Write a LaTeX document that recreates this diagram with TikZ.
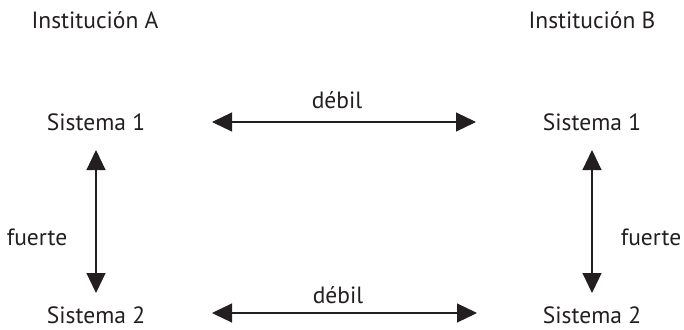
\documentclass[tikz,border=0pt]{standalone}
\usepackage{fontspec}
\setmainfont{PT Sans}
\usetikzlibrary{arrows.meta}
\definecolor{ink}{HTML}{231F20}
\begin{document}
\begin{tikzpicture}[x=1pt,y=-1pt,
  lbl/.style={font=\fontsize{23.5}{26}\selectfont,text=ink,inner sep=0pt},
  conn/.style={draw=ink,line width=1.2pt,{Triangle[length=20pt,width=19pt]}-{Triangle[length=20pt,width=19pt]}}]
\useasboundingbox (0,0) rectangle (684,329);
\node[lbl] (ia) at (95,20) {Institución A};
\node[lbl] (ib) at (592,20) {Institución B};
\node[lbl] (s1a) at (96,122) {Sistema 1};
\node[lbl] (s1b) at (592,122) {Sistema 1};
\node[lbl] (s2a) at (96,315.5) {Sistema 2};
\node[lbl] (s2b) at (592,315.5) {Sistema 2};
\draw[conn,shorten <=116pt,shorten >=116pt] (s1a.center) -- (s1b.center);
\draw[conn,shorten <=116pt,shorten >=115pt] ([yshift=2.5pt]s2a.center) -- ([yshift=2.5pt]s2b.center);
\draw[conn,shorten <=28pt,shorten >=22.5pt] (s1a.center) -- (s2a.center);
\draw[conn,shorten <=28pt,shorten >=22.5pt] (s1b.center) -- (s2b.center);
\node[lbl] (d1) at (337,100) {débil};
\node[lbl] (d2) at (338,295) {débil};
\node[lbl] (fa) at (37,237) {fuerte};
\node[lbl] (fb) at (651,237) {fuerte};
\end{tikzpicture}
\end{document}
